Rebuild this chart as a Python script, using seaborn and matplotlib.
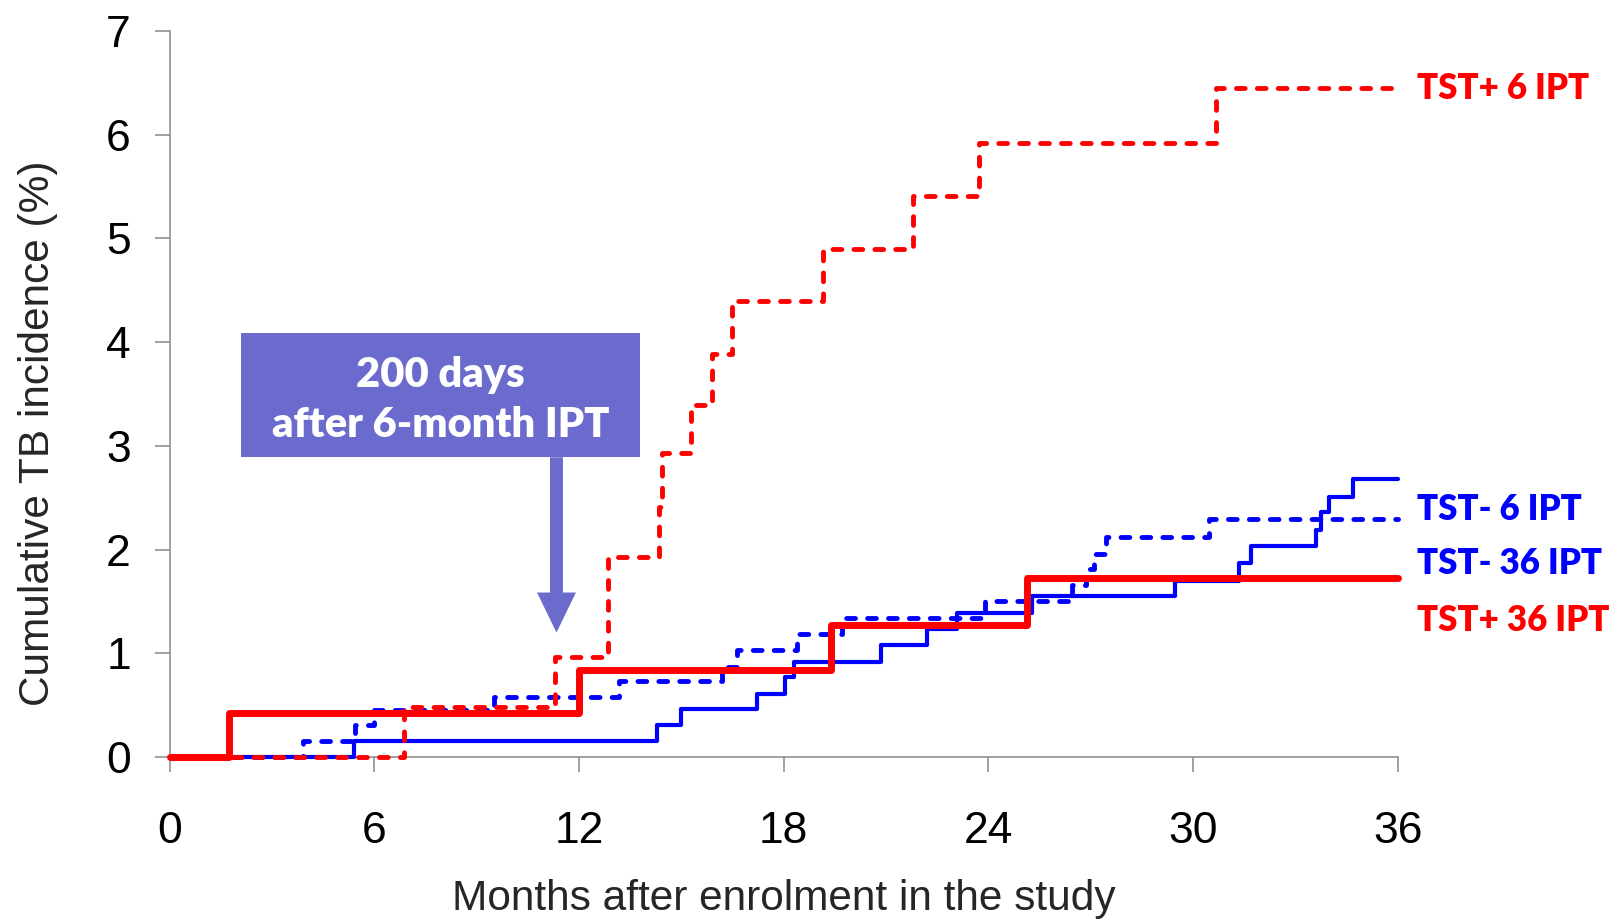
import seaborn as sns
import matplotlib.pyplot as plt
from matplotlib.patches import Rectangle, FancyArrow

# event times (months) and cumulative TB incidence (%) for each arm
pos6_t = [0, 6.88, 11.3, 12.85, 14.33, 14.43, 15.28, 15.9, 16.47, 19.16, 21.78, 23.72, 30.67, 36]
pos6_v = [0, 0.48, 0.96, 1.93, 2.41, 2.93, 3.39, 3.89, 4.40, 4.90, 5.41, 5.92, 6.45, 6.45]

pos36_t = [0, 1.75, 12.0, 19.37, 25.14, 36]
pos36_v = [0, 0.42, 0.84, 1.27, 1.73, 1.73]

neg6_t = [0, 3.92, 5.45, 6.0, 9.5, 13.16, 16.19, 16.63, 18.39, 19.71, 23.9, 26.46, 26.85,
          27.09, 27.43, 30.46, 36]
neg6_v = [0, 0.15, 0.31, 0.45, 0.58, 0.73, 0.87, 1.03, 1.19, 1.34, 1.50, 1.66, 1.81,
          1.96, 2.12, 2.29, 2.29]

neg36_t = [0, 5.41, 14.3, 15.0, 17.22, 18.05, 18.3, 20.84, 22.2, 23.08, 25.28, 29.46, 31.34,
           31.68, 33.59, 33.74, 33.98, 34.67, 36]
neg36_v = [0, 0.15, 0.31, 0.46, 0.61, 0.77, 0.92, 1.08, 1.23, 1.39, 1.55, 1.70, 1.87,
           2.03, 2.19, 2.36, 2.51, 2.68, 2.68]

x_ticks = [0, 6, 12, 18, 24, 30, 36]
y_ticks = [0, 1, 2, 3, 4, 5, 6, 7]

RED = '#FF0000'
BLUE = '#0000FF'
BOX = '#6B6BCD'

sns.set_theme(style="ticks")
plt.rcParams['font.family'] = ['Liberation Sans', 'DejaVu Sans']

fig = plt.figure(figsize=(16.21, 9.19), dpi=100)
ax = fig.add_axes([169.5 / 1621, 1 - 757 / 919, (1398 - 169.5) / 1621, (757 - 31) / 919])

dash = (0, (1.8, 2.5))
sns.lineplot(x=neg36_t, y=neg36_v, ax=ax, drawstyle='steps-post', color=BLUE,
             linewidth=3.0, estimator=None, sort=False, clip_on=False, zorder=3)
sns.lineplot(x=neg6_t, y=neg6_v, ax=ax, drawstyle='steps-post', color=BLUE,
             linewidth=3.5, linestyle=dash, dash_capstyle='round',
             estimator=None, sort=False, clip_on=False, zorder=4)
sns.lineplot(x=pos36_t, y=pos36_v, ax=ax, drawstyle='steps-post', color=RED,
             linewidth=5.0, estimator=None, sort=False, clip_on=False, zorder=5)
sns.lineplot(x=pos6_t, y=pos6_v, ax=ax, drawstyle='steps-post', color=RED,
             linewidth=3.5, linestyle=dash, dash_capstyle='round',
             estimator=None, sort=False, clip_on=False, zorder=6)

ax.set_xlim(0, 36)
ax.set_ylim(0, 7)
ax.set_xticks(x_ticks)
ax.set_yticks(y_ticks)
sns.despine(ax=ax)
for s in ['left', 'bottom']:
    ax.spines[s].set_color('#888888')
    ax.spines[s].set_linewidth(1.1)
ax.tick_params(axis='both', length=10.8, width=1.1, color='#888888', labelsize=32,
               labelcolor='black')
ax.tick_params(axis='x', pad=28)
ax.tick_params(axis='y', pad=17)

ax.set_xlabel('Months after enrolment in the study', fontsize=30.5)
ax.set_ylabel('Cumulative TB incidence (%)', fontsize=30.5)
ax.xaxis.set_label_coords(0.5, -0.168)
ax.yaxis.label.set_va('center')
ax.yaxis.set_label_coords(-0.107, 0.446)

# curve labels
lab_font = ['Lato', 'DejaVu Sans']
labels = [('TST+ 6 IPT', 6.45, RED), ('TST- 6 IPT', 2.39, BLUE),
          ('TST- 36 IPT', 1.87, BLUE), ('TST+ 36 IPT', 1.32, RED)]
for txt, yv, col in labels:
    ax.text(36.55, yv, txt, color=col, fontsize=25, fontweight='heavy',
            family=lab_font, ha='left', va='center', clip_on=False)

# annotation box and arrow
ax.add_patch(Rectangle((2.10, 2.89), 11.70, 1.20, facecolor=BOX, edgecolor='none', zorder=7))
ax.text(7.95, 3.68, '200 days', color='white', fontsize=30, fontweight='heavy',
        family=lab_font, ha='center', va='center', zorder=8)
ax.text(7.95, 3.20, 'after 6-month IPT', color='white', fontsize=30, fontweight='heavy',
        family=lab_font, ha='center', va='center', zorder=8)
ax.add_patch(FancyArrow(11.34, 2.89, 0, -(2.89 - 1.20), width=0.38, head_width=1.14,
                        head_length=0.386, length_includes_head=True, color=BOX,
                        lw=0, zorder=7))

fig.savefig('out.png', dpi=100)
